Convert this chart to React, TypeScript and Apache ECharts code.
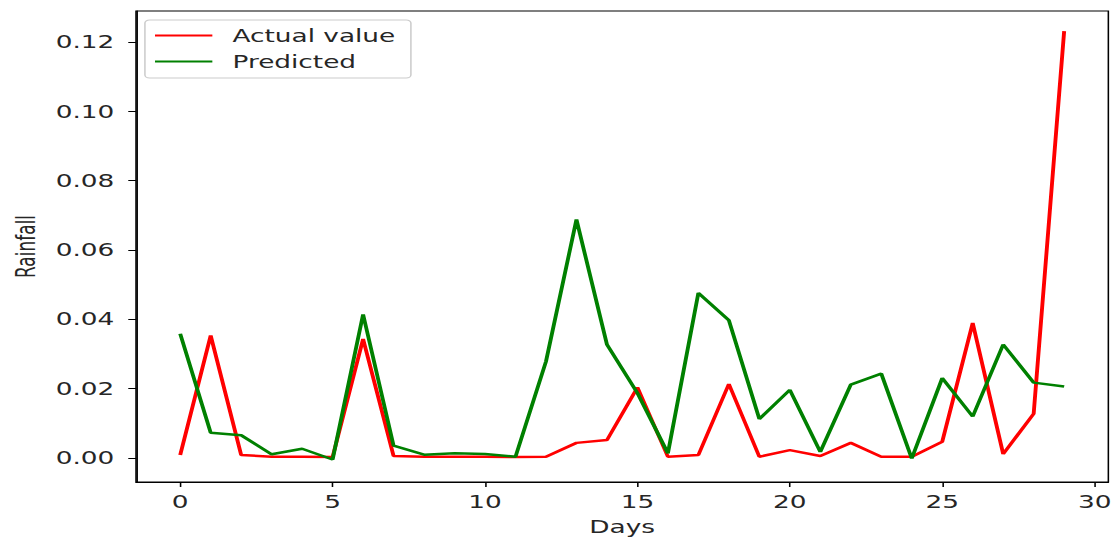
import React, { useEffect, useRef } from "react";
import * as echarts from "echarts";

// Daily rainfall: observed vs. model prediction
const days = [
  0, 1, 2, 3, 4, 5, 6, 7, 8, 9, 10, 11, 12, 13, 14, 15, 16, 17, 18, 19, 20, 21,
  22, 23, 24, 25, 26, 27, 28, 29,
];
const actualValues = [
  0.0008, 0.0353, 0.0008, 0.0003, 0.0003, 0.0002, 0.0343, 0.0005, 0.0003,
  0.0003, 0.0003, 0.0002, 0.0003, 0.0043, 0.0051, 0.0203, 0.0003, 0.0008,
  0.0213, 0.0003, 0.0022, 0.0005, 0.0043, 0.0003, 0.0003, 0.0046, 0.0389,
  0.0011, 0.0127, 0.1232,
];
const predictedValues = [
  0.0358, 0.0072, 0.0065, 0.001, 0.0026, -0.0005, 0.0414, 0.0035, 0.0009,
  0.0013, 0.0011, 0.0003, 0.0278, 0.0688, 0.0327, 0.0187, 0.0013, 0.0476,
  0.0397, 0.0112, 0.0196, 0.0017, 0.0211, 0.0243, -0.0002, 0.023, 0.0119,
  0.0327, 0.0217, 0.0206,
];
const xTicks = [0, 5, 10, 15, 20, 25, 30];
const yTicks = [0, 0.02, 0.04, 0.06, 0.08, 0.1, 0.12];

// The figure is drawn at a narrower width and stretched horizontally.
const STRETCH = 1.55;
const WIDTH = 720;
const HEIGHT = 540;
const FONT = "DejaVu Sans";
const TEXT = "#262626";

export default function App() {
  const ref = useRef<HTMLDivElement>(null);

  useEffect(() => {
    if (!ref.current) return;
    const chart = echarts.init(ref.current, undefined, { renderer: "svg" });
    const pair = (vals: number[]) => days.map((d, i) => [d, vals[i]]);

    chart.setOption({
      animation: false,
      textStyle: { fontFamily: FONT, color: TEXT },
      grid: {
        left: 85.5,
        right: 2.6,
        top: 11,
        bottom: 58,
        show: true,
        borderColor: "#000",
        borderWidth: 1,
        containLabel: false,
      },
      legend: {
        orient: "vertical",
        left: 93.5,
        top: 20,
        padding: [7, 10, 8, 6.5],
        itemGap: 9,
        itemWidth: 37,
        itemHeight: 2,
        icon: "rect",
        borderColor: "#cccccc",
        borderWidth: 1,
        borderRadius: 3,
        backgroundColor: "rgba(255,255,255,0.8)",
        textStyle: {
          fontFamily: FONT,
          fontSize: 17,
          lineHeight: 17,
          color: TEXT,
          padding: [0, 0, 0, 8],
        },
        data: ["Actual value", "Predicted"],
      },
      xAxis: {
        type: "value",
        min: -1.45,
        max: 30.45,
        name: "Days",
        nameLocation: "middle",
        nameGap: 36,
        nameTextStyle: { fontFamily: FONT, fontSize: 17, color: TEXT },
        axisLine: { onZero: false, lineStyle: { color: "#000", width: 1 } },
        axisTick: {
          length: 5,
          lineStyle: { color: "#000" },
          customValues: xTicks,
        },
        axisLabel: {
          fontFamily: FONT,
          fontSize: 17,
          color: TEXT,
          margin: 11,
          customValues: xTicks,
        },
        splitLine: { show: false },
      },
      yAxis: {
        type: "value",
        min: -0.007,
        max: 0.129,
        name: "Rainfall",
        nameLocation: "middle",
        nameRotate: 90,
        nameGap: 62,
        nameTextStyle: { fontFamily: FONT, fontSize: 17, color: TEXT },
        axisLine: { onZero: false, lineStyle: { color: "#000", width: 1 } },
        axisTick: {
          length: 5,
          lineStyle: { color: "#000" },
          customValues: yTicks,
        },
        axisLabel: {
          fontFamily: FONT,
          fontSize: 17,
          color: TEXT,
          margin: 14,
          customValues: yTicks,
          formatter: (v: number) => v.toFixed(2),
        },
        splitLine: { show: false },
      },
      series: [
        {
          name: "Actual value",
          type: "line",
          data: pair(actualValues),
          symbol: "none",
          itemStyle: { color: "#ff0000" },
          lineStyle: { color: "#ff0000", width: 2.5 },
        },
        {
          name: "Predicted",
          type: "line",
          data: pair(predictedValues),
          symbol: "none",
          itemStyle: { color: "#008000" },
          lineStyle: { color: "#008000", width: 2.5 },
        },
      ],
    });

    return () => chart.dispose();
  }, []);

  return (
    <div
      ref={ref}
      style={{
        position: "fixed",
        left: 0,
        top: 0,
        width: WIDTH,
        height: HEIGHT,
        transform: `scaleX(${STRETCH})`,
        transformOrigin: "0 0",
        background: "#fff",
      }}
    />
  );
}
